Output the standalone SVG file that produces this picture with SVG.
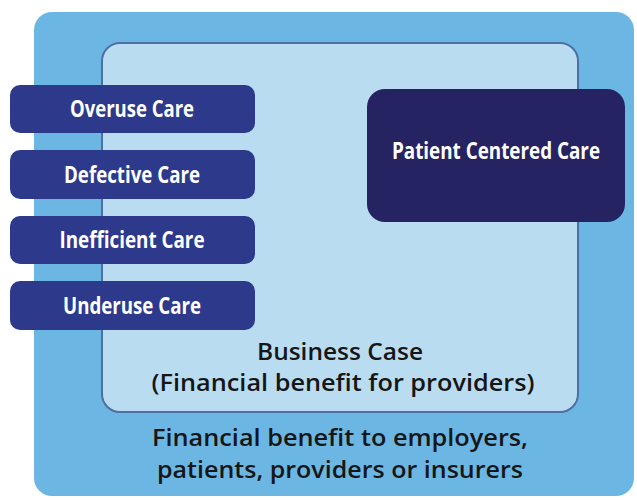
<svg xmlns="http://www.w3.org/2000/svg" width="637" height="500" viewBox="0 0 637 500">
  <style>
    .care { fill: #2d3a8c; }
    .label { font-family: "Open Sans", "Liberation Sans", sans-serif; font-weight: 700; font-size: 24px; fill: #ffffff; text-anchor: middle; }
    .body { font-family: "Open Sans", "Liberation Sans", sans-serif; font-weight: 600; font-size: 22.5px; fill: #161616; text-anchor: middle; }
  </style>
  <rect width="637" height="500" fill="#ffffff"/>

  <!-- outer region: societal benefit -->
  <g id="societal">
    <rect x="34" y="12" width="600" height="484" rx="18" fill="#6cb6e3"/>
    <text class="body" x="340" y="446" textLength="376" lengthAdjust="spacingAndGlyphs">Financial benefit to employers,</text>
    <text class="body" x="340" y="478" textLength="366" lengthAdjust="spacingAndGlyphs">patients, providers or insurers</text>
  </g>

  <!-- inner region: business case -->
  <g id="business-case">
    <rect x="102" y="43" width="476" height="369" rx="18" fill="#badcf1" stroke="#4d6fa3" stroke-width="2"/>
    <text class="body" x="340" y="360" textLength="166" lengthAdjust="spacingAndGlyphs">Business Case</text>
    <text class="body" x="343" y="391" textLength="383" lengthAdjust="spacingAndGlyphs">(Financial benefit for providers)</text>
  </g>

  <g id="overuse">
    <rect class="care" x="10" y="85" width="245" height="48" rx="10"/>
    <text class="label" x="132" y="117" textLength="124" lengthAdjust="spacingAndGlyphs">Overuse Care</text>
  </g>
  <g id="defective">
    <rect class="care" x="10" y="150" width="245" height="49" rx="10"/>
    <text class="label" x="132" y="183" textLength="136" lengthAdjust="spacingAndGlyphs">Defective Care</text>
  </g>
  <g id="inefficient">
    <rect class="care" x="10" y="216" width="245" height="48" rx="10"/>
    <text class="label" x="132" y="248" textLength="145" lengthAdjust="spacingAndGlyphs">Inefficient Care</text>
  </g>
  <g id="underuse">
    <rect class="care" x="10" y="281" width="245" height="49" rx="10"/>
    <text class="label" x="132" y="314" textLength="138" lengthAdjust="spacingAndGlyphs">Underuse Care</text>
  </g>

  <g id="patient-centered">
    <rect x="367" y="89" width="258" height="133" rx="18" fill="#262363"/>
    <text class="label" x="496" y="159" textLength="208" lengthAdjust="spacingAndGlyphs">Patient Centered Care</text>
  </g>

  <g id="connectors"/>
</svg>
